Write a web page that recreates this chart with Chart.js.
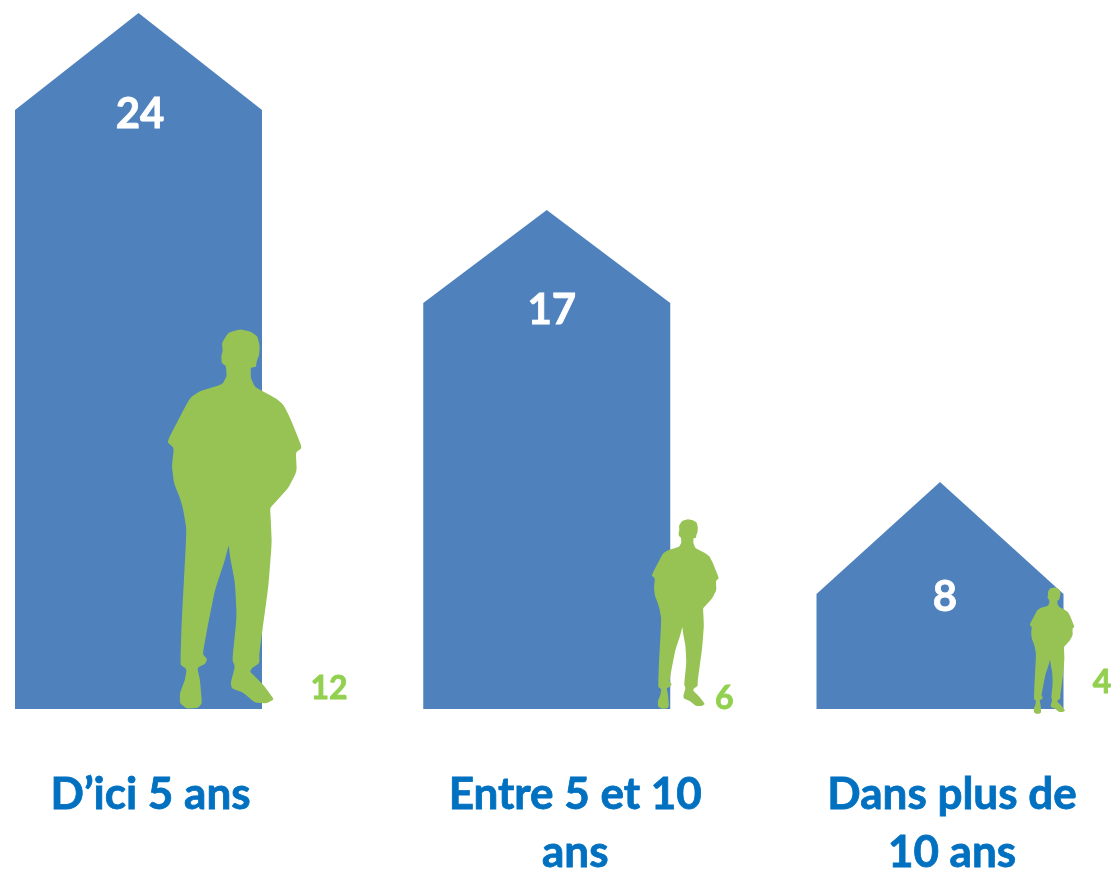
<!DOCTYPE html>
<html>
<head>
<meta charset="utf-8">
<title>Logements et habitants</title>
<script src="https://cdn.jsdelivr.net/npm/chart.js@4"></script>
<style>
  html, body { margin: 0; padding: 0; background: #fff; }
  canvas { display: block; }
</style>
</head>
<body>
<canvas id="chart" width="1115" height="871"></canvas>
<script>
// Donnees
const categories = [['D’ici 5 ans'], ['Entre 5 et 10', 'ans'], ['Dans plus de', '10 ans']];
const logements = [24, 17, 8];
const habitants = [12, 6, 4];

// Reglages de mise en page, par categorie (pixels)
const houseNudgeX = [0, 7.5, 0];
const houseTopNudge = [0, -6, 5];
const roofHeight = [97, 93, 112];
const valueOffset = [[1.5, 101], [12.5, 94], [5, 120]];
const personOffsetX = [96, 146, 112];
const personBaseNudge = [0, 0, 5];
const personLabelOffset = [[190.5, -20], [185, -10], [162, -26]];
const categoryOffsetX = [12, 36, 12];

const COLORS = { house: '#4f81bd', person: '#97c355', personText: '#92d050', category: '#0070c0' };
const FONT = 'Lato, "Open Sans", sans-serif';

// Silhouette dans une boite de 135 x 379
const PERSON_W = 135, PERSON_H = 379;
const silhouette = [
  [73,0],[83,2],[90.3,6.7],[92.7,16.7],[92,26],[89.7,31.7],[89,37.3],[83.7,38.3],[83.7,48.3],[88,57.7],
  [108,68.3],[116.3,75],[123,88.3],[135,118.3],[128.7,122.7],[129.7,141.7],[121.3,158.3],[109,171.7],[103,178.3],
  [103.7,190],[104.7,213.3],[101.3,256.7],[96.3,293.3],[92.3,323.3],[92.3,333.3],[84.7,338.3],[83,341.7],[96.3,355],
  [107,369.3],[99.7,373.3],[88,372.7],[76.3,362.7],[64.7,358.3],[63.7,352.7],[68,336.7],[65.3,330],[69.7,286.7],
  [68,253.3],[63,226.7],[61.7,215],[58,230],[48,260],[41.3,293.3],[35.7,324],[40.3,329.3],[38,334],[30.3,337.7],
  [33,350],[35,373.3],[31.3,377.7],[19.7,378.7],[13,373.3],[13,363.3],[18,350],[19.7,339.3],[13.7,335],[13.7,325],
  [14.7,293.3],[19.7,200],[16.3,180],[13,168.3],[7,153.3],[5,136.7],[7,118.3],[0,112.3],[23,68.3],[33,61.7],[55.3,55],
  [59.7,46.7],[59,36.7],[54.7,33.3],[54.3,26.7],[55.7,21.7],[55,13.3],[61.3,3.3]
];

function drawHouse(ctx, bar, i) {
  const x = bar.x + houseNudgeX[i];
  const half = bar.width / 2;
  const top = bar.y + houseTopNudge[i];
  ctx.fillStyle = COLORS.house;
  ctx.beginPath();
  ctx.moveTo(x, top);
  ctx.lineTo(x + half, top + roofHeight[i]);
  ctx.lineTo(x + half, bar.base);
  ctx.lineTo(x - half, bar.base);
  ctx.lineTo(x - half, top + roofHeight[i]);
  ctx.closePath();
  ctx.fill();
}

function drawPerson(ctx, bar, i) {
  // la taille de la silhouette suit la valeur sur l'axe y2
  const k = (bar.base - bar.y) / PERSON_H;
  const left = bar.x + personOffsetX[i] - PERSON_W * k / 2;
  const top = bar.y + personBaseNudge[i];
  const pts = silhouette.map(function (p) { return [left + p[0] * k, top + p[1] * k]; });
  const lerp = function (a, b, t) { return [a[0] + (b[0] - a[0]) * t, a[1] + (b[1] - a[1]) * t]; };
  ctx.fillStyle = COLORS.person;
  ctx.beginPath();
  // coins arrondis : on coupe chaque sommet avec une petite courbe
  pts.forEach(function (p, n) {
    const prev = pts[(n - 1 + pts.length) % pts.length];
    const next = pts[(n + 1) % pts.length];
    const a = lerp(p, prev, 0.2), b = lerp(p, next, 0.2);
    if (n === 0) ctx.moveTo(a[0], a[1]); else ctx.lineTo(a[0], a[1]);
    ctx.quadraticCurveTo(p[0], p[1], b[0], b[1]);
  });
  ctx.closePath();
  ctx.fill();
}

// texte un peu plus gras que le Lato bold
function boldText(ctx, text, x, y, color) {
  ctx.fillStyle = color;
  ctx.strokeStyle = color;
  ctx.lineWidth = 0.8;
  ctx.fillText(text, x, y);
  ctx.strokeText(text, x, y);
}

const pictoPlugin = {
  id: 'picto',
  beforeDatasetDraw(chart, args) {
    const ctx = chart.ctx;
    ctx.save();
    args.meta.data.forEach(function (bar, i) {
      if (args.index === 0) drawHouse(ctx, bar, i); else drawPerson(ctx, bar, i);
    });
    ctx.restore();
    return false; // remplace le rectangle par defaut
  },
  afterDatasetsDraw(chart) {
    const ctx = chart.ctx;
    const houses = chart.getDatasetMeta(0).data;
    const people = chart.getDatasetMeta(1).data;
    const xScale = chart.scales.x;
    const base = chart.chartArea.bottom;
    ctx.save();
    ctx.textAlign = 'center';
    ctx.textBaseline = 'middle';

    ctx.font = 'bold 42px ' + FONT;
    logements.forEach(function (v, i) {
      boldText(ctx, String(v), houses[i].x + valueOffset[i][0], houses[i].y + valueOffset[i][1], '#fff');
    });

    ctx.font = 'bold 32px ' + FONT;
    habitants.forEach(function (v, i) {
      boldText(ctx, String(v), people[i].x + personLabelOffset[i][0], base + personLabelOffset[i][1], COLORS.personText);
    });

    ctx.font = 'bold 44px ' + FONT;
    categories.forEach(function (lines, i) {
      const x = xScale.getPixelForValue(i) + categoryOffsetX[i];
      lines.forEach(function (line, n) {
        boldText(ctx, line, x, base + 86 + n * 58, COLORS.category);
      });
    });
    ctx.restore();
  }
};

new Chart(document.getElementById('chart').getContext('2d'), {
  type: 'bar',
  data: {
    labels: categories,
    datasets: [
      { label: 'Logements', data: logements, yAxisID: 'y', backgroundColor: COLORS.house, order: 2 },
      { label: 'Habitants', data: habitants, yAxisID: 'y2', backgroundColor: COLORS.person, order: 1 }
    ]
  },
  options: {
    responsive: false,
    animation: false,
    layout: { padding: { left: 138.5, right: 175, top: 13, bottom: 162 } },
    datasets: { bar: { grouped: false, barThickness: 247 } },
    plugins: { legend: { display: false }, tooltip: { enabled: false } },
    scales: {
      x: { display: false, offset: false },
      y: { display: false, min: 0, max: 24 },
      y2: { display: false, min: 0, max: 22 }
    }
  },
  plugins: [pictoPlugin]
});
</script>
</body>
</html>
